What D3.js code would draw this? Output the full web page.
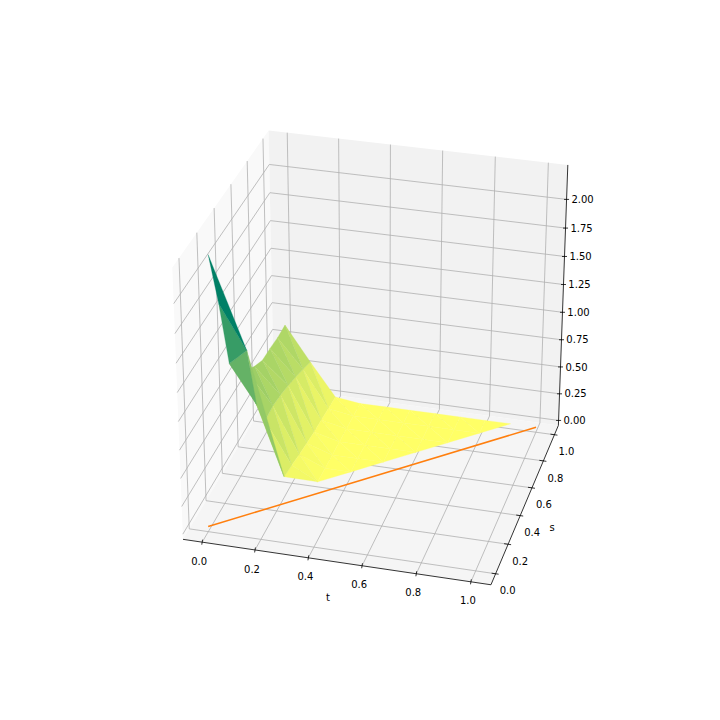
<!DOCTYPE html>
<html>
<head>
<meta charset="utf-8">
<script src="https://cdnjs.cloudflare.com/ajax/libs/d3/7.8.5/d3.min.js"></script>
<style>
html,body{margin:0;padding:0;background:#fff;}
text{font-family:"DejaVu Sans";font-size:10px;fill:#000;}
</style>
</head>
<body>
<svg width="720" height="720"></svg>
<script>
var tTicks = [0, 0.2, 0.4, 0.6, 0.8, 1.0];
var sTicks = [0, 0.2, 0.4, 0.6, 0.8, 1.0];
var zTicks = [0, 0.25, 0.5, 0.75, 1.0, 1.25, 1.5, 1.75, 2.0];

// sample points: s runs from just above t up to 1, one list of heights for each t
var tVals = [0, 0.1, 0.2, 0.3, 0.4, 0.5, 0.6, 0.7, 0.8, 0.9];
var sVals = [0.1, 0.2, 0.3, 0.4, 0.5, 0.6, 0.7, 0.8, 0.9, 1.0];
var z0 = [2.24, 1.72, 1.09, 0.91, 0.80, 0.72, 0.66, 0.654, 0.64, 0.644];
var z1 = [1.35, 0.76, 0.495, 0.51, 0.49, 0.46, 0.42, 0.376, 0.33];
var z2 = [0.14, 0.12, 0.095, 0.075, 0.06, 0.05, 0.04, 0.03];
var z3 = [0, 0, 0, 0, 0, 0, 0];
var z4 = [0, 0, 0, 0, 0, 0];
var z5 = [0, 0, 0, 0, 0];
var z6 = [0, 0, 0, 0];
var z7 = [0, 0, 0];
var z8 = [0, 0];
var z9 = [0];
var zCols = [z0, z1, z2, z3, z4, z5, z6, z7, z8, z9];

var tLim = [-0.05, 1.05];
var sLim = [-0.05, 1.05];
var zLim = [0, 2.25];
var elev = 30, azim = -75, dist = 10;

var svg = d3.select("svg");
var px = d3.scaleLinear().domain([-0.095, 0.09]).range([90, 648]);
var py = d3.scaleLinear().domain([-0.095, 0.09]).range([631, 85.8]);
var nt = d3.scaleLinear().domain(tLim).range([0, 1]);
var ns = d3.scaleLinear().domain(sLim).range([0, 1]);
var nz = d3.scaleLinear().domain(zLim).range([0, 1]);

var el = elev * Math.PI / 180, az = azim * Math.PI / 180;
var eye = [0.5 + dist * Math.cos(el) * Math.cos(az), 0.5 + dist * Math.cos(el) * Math.sin(az), 0.5 + dist * Math.sin(el)];
function norm(a) { var l = Math.hypot(a[0], a[1], a[2]); return [a[0]/l, a[1]/l, a[2]/l]; }
function cross(a, b) { return [a[1]*b[2]-a[2]*b[1], a[2]*b[0]-a[0]*b[2], a[0]*b[1]-a[1]*b[0]]; }
function dot(a, b) { return a[0]*b[0]+a[1]*b[1]+a[2]*b[2]; }
var n = norm([eye[0]-0.5, eye[1]-0.5, eye[2]-0.5]);
var u = norm(cross([0,0,1], n));
var v = cross(n, u);

function proj(t, s, z) {
	var p = [nt(t)-eye[0], ns(s)-eye[1], nz(z)-eye[2]];
	var w = -dot(n, p);
	return [px(dot(u, p)/w), py(dot(v, p)/w), w];
}

// panes stick out 1/48 of the range past the limits
var tp = [tLim[0]-(tLim[1]-tLim[0])/48, tLim[1]+(tLim[1]-tLim[0])/48];
var sp = [sLim[0]-(sLim[1]-sLim[0])/48, sLim[1]+(sLim[1]-sLim[0])/48];
var zp = [zLim[0]-(zLim[1]-zLim[0])/48, zLim[1]+(zLim[1]-zLim[0])/48];

var line = d3.line().x(function(d){return d[0];}).y(function(d){return d[1];});
function path3(pts) { return line(pts.map(function(d){return proj(d[0],d[1],d[2]);})); }

function pane(pts, col) { svg.append("path").attr("d", path3(pts)+"Z").attr("fill", col); }
pane([[tp[0],sp[0],zp[0]],[tp[0],sp[1],zp[0]],[tp[0],sp[1],zp[1]],[tp[0],sp[0],zp[1]]], "#f9f9f9");
pane([[tp[0],sp[1],zp[0]],[tp[1],sp[1],zp[0]],[tp[1],sp[1],zp[1]],[tp[0],sp[1],zp[1]]], "#f2f2f2");
pane([[tp[0],sp[0],zp[0]],[tp[1],sp[0],zp[0]],[tp[1],sp[1],zp[0]],[tp[0],sp[1],zp[0]]], "#f5f5f5");

var grid = svg.append("g").attr("fill","none").attr("stroke","#b0b0b0").attr("stroke-width",0.8);
tTicks.forEach(function(t){ grid.append("path").attr("d", path3([[t,sp[0],zp[0]],[t,sp[1],zp[0]],[t,sp[1],zp[1]]])); });
sTicks.forEach(function(s){ grid.append("path").attr("d", path3([[tp[0],s,zp[1]],[tp[0],s,zp[0]],[tp[1],s,zp[0]]])); });
zTicks.forEach(function(z){ grid.append("path").attr("d", path3([[tp[0],sp[0],z],[tp[0],sp[1],z],[tp[1],sp[1],z]])); });

var axes = svg.append("g").attr("fill","none").attr("stroke","#000").attr("stroke-width",0.8);
axes.append("path").attr("d", path3([[tp[0],sp[0],zp[0]],[tp[1],sp[0],zp[0]]]));
axes.append("path").attr("d", path3([[tp[1],sp[0],zp[0]],[tp[1],sp[1],zp[0]]]));
axes.append("path").attr("d", path3([[tp[1],sp[1],zp[0]],[tp[1],sp[1],zp[1]]]));

// triangles over the t < s region, each square split along the same diagonal
function vert(i, j) { return [tVals[i], sVals[j], zCols[i][j-i]]; }
var tris = [];
tVals.forEach(function(t, i) {
	for (var j = i; j < sVals.length - 1; j++) {
		if (j == i) {
			tris.push([vert(i,j), vert(i,j+1), vert(i+1,j+1)]);
		} else {
			tris.push([vert(i,j+1), vert(i+1,j+1), vert(i+1,j)]);
			tris.push([vert(i,j+1), vert(i,j), vert(i+1,j)]);
		}
	}
});
tris.forEach(function(d) {
	d.zMean = d3.mean(d, function(p){return p[2];});
	d.depth = d3.mean(d, function(p){return proj(p[0],p[1],p[2])[2];});
});
tris.sort(function(a,b){return b.depth-a.depth;});

var color = d3.scaleLinear().domain(d3.extent(tris, function(d){return d.zMean;})).range(["#ffff66","#008066"]);
svg.append("g").selectAll("path").data(tris).enter().append("path")
	.attr("d", function(d){return path3(d)+"Z";})
	.attr("fill", function(d){return color(d.zMean);})
	.attr("stroke", function(d){return color(d.zMean);})
	.attr("stroke-width", 0.3);

svg.append("path").attr("d", path3([[0,0,0],[1,1,0]])).attr("fill","none").attr("stroke","#ff7f0e").attr("stroke-width",1.5);

tTicks.forEach(function(t){
	var a = proj(t,sp[0],zp[0]);
	axes.append("path").attr("d", line([[a[0]+0.4,a[1]-2.5],[a[0]-0.4,a[1]+2.5]]));
	svg.append("text").attr("x",a[0]-3).attr("y",a[1]+19).attr("dy","0.36em").attr("text-anchor","middle").text(t.toFixed(1));
});
sTicks.forEach(function(s){
	var a = proj(tp[1],s,zp[0]);
	axes.append("path").attr("d", line([[a[0]-4,a[1]-0.6],[a[0]+3,a[1]+0.4]]));
	svg.append("text").attr("x",a[0]+12).attr("y",a[1]+17).attr("dy","0.36em").attr("text-anchor","middle").text(s.toFixed(1));
});
zTicks.forEach(function(z){
	var a = proj(tp[1],sp[1],z);
	axes.append("path").attr("d", line([[a[0]-2.5,a[1]],[a[0]+2.5,a[1]]]));
	svg.append("text").attr("x",a[0]+16).attr("y",a[1]).attr("dy","0.36em").attr("text-anchor","middle").text(z.toFixed(2));
});
svg.append("text").attr("x",328).attr("y",597).attr("dy","0.36em").attr("text-anchor","middle").text("t");
svg.append("text").attr("x",552).attr("y",527).attr("dy","0.36em").attr("text-anchor","middle").text("s");
</script>
</body>
</html>
